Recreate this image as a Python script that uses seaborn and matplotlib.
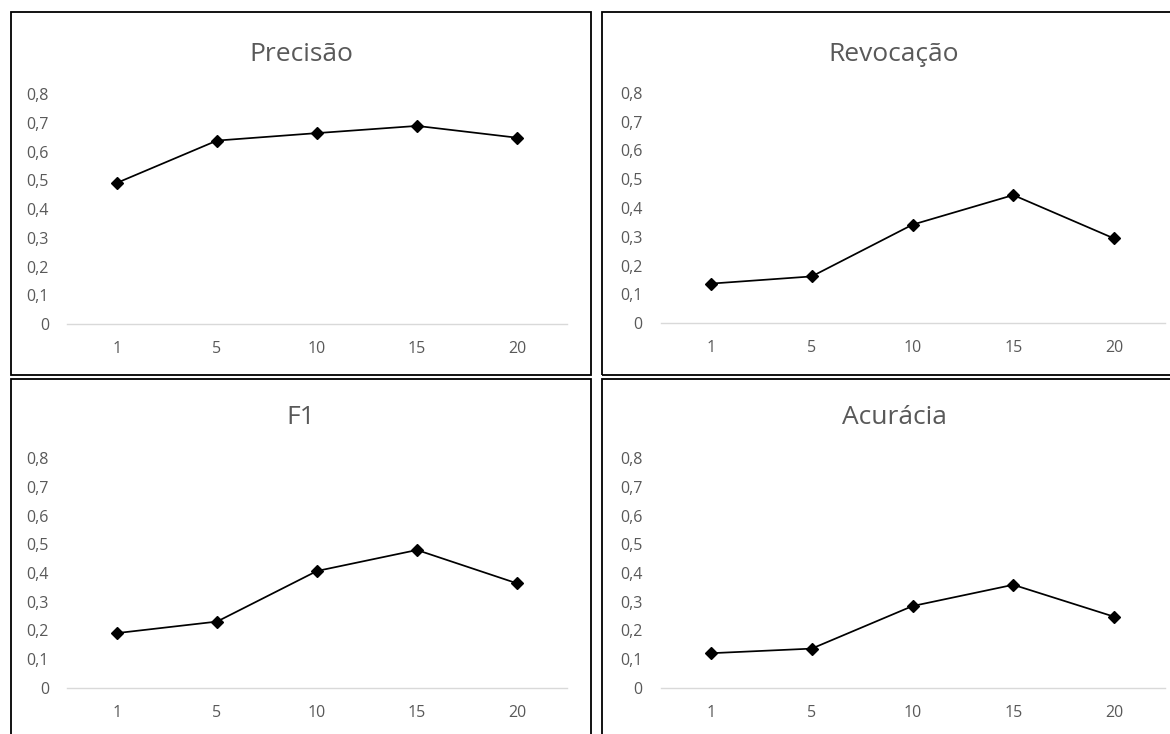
import matplotlib
matplotlib.use("Agg")
import matplotlib.pyplot as plt
import seaborn as sns
import pandas as pd
from matplotlib.patches import Rectangle

# ---------------- data ----------------
k_values = ["1", "5", "10", "15", "20"]
precisao = [0.491, 0.638, 0.664, 0.689, 0.648]
revocacao = [0.137, 0.162, 0.342, 0.445, 0.294]
f1 = [0.191, 0.231, 0.407, 0.480, 0.364]
acuracia = [0.121, 0.137, 0.285, 0.359, 0.248]
titles = ["Precisão", "Revocação", "F1", "Acurácia"]
y_ticks = [0, 0.1, 0.2, 0.3, 0.4, 0.5, 0.6, 0.7, 0.8]
y_tick_labels = ["0", "0,1", "0,2", "0,3", "0,4", "0,5", "0,6", "0,7", "0,8"]

sns.set_theme(style="white")
plt.rcParams['font.family'] = ['Open Sans', 'DejaVu Sans']

W, H = 1170, 734
fig = plt.figure(figsize=(W / 100, H / 100), dpi=100)
fig.patch.set_facecolor("white")

TEXT = "#595959"
AXIS = "#D9D9D9"

# layout in pixels: frame (x0, y0, x1, y1), plot area (left, right, top, bottom), title (x, baseline y)
layout = [
    ((11, 12.5, 591, 374.5), (67, 567, 94, 324), (301, 61)),
    ((602.5, 12.5, 1180, 374.5), (660.5, 1164.5, 93, 323), (894, 61)),
    ((11, 378.5, 591, 745), (67, 567, 458, 688), (301, 424)),
    ((602.5, 378.5, 1180, 745), (660.5, 1164.5, 458, 688), (894, 424)),
]
series = [precisao, revocacao, f1, acuracia]

for (frame, area, tpos), title, vals in zip(layout, titles, series):
    x0, y0, x1, y1 = frame
    fig.add_artist(Rectangle((x0 / W, 1 - y1 / H), (x1 - x0) / W, (y1 - y0) / H,
                             transform=fig.transFigure, fill=False,
                             edgecolor="black", linewidth=1.3, clip_on=False))
    l, r, t, b = area
    ax = fig.add_axes([l / W, 1 - b / H, (r - l) / W, (b - t) / H])
    df = pd.DataFrame({"k": k_values, "v": vals})
    sns.pointplot(data=df, x="k", y="v", order=k_values, color="black",
                  markers="D", linestyles="-", errorbar=None, ax=ax,
                  markersize=6, linewidth=1.25)
    for ln in ax.lines:
        ln.set_clip_on(False)
    ax.set_xlim(-0.5, len(k_values) - 0.5)
    ax.set_ylim(0, 0.8)
    ax.set_yticks(y_ticks)
    ax.set_yticklabels(y_tick_labels)
    ax.set_xlabel("")
    ax.set_ylabel("")
    ax.grid(False)
    ax.set_facecolor("none")
    for side in ["top", "right", "left"]:
        ax.spines[side].set_visible(False)
    ax.spines["bottom"].set_color(AXIS)
    ax.spines["bottom"].set_linewidth(1.0)
    ax.tick_params(axis="y", length=0, pad=13, labelsize=11.5, labelcolor=TEXT)
    ax.tick_params(axis="x", length=0, pad=12, labelsize=11.5, labelcolor=TEXT)
    fig.text(tpos[0] / W, 1 - tpos[1] / H, title, ha="center", va="baseline",
             fontsize=19, color=TEXT)

fig.savefig("out.png", dpi=100, facecolor="white")
